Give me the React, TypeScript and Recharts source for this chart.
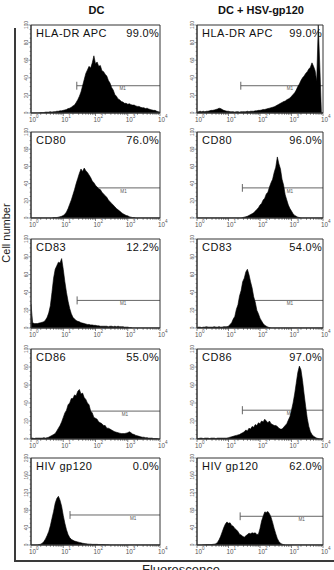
import { AreaChart, Area, XAxis, YAxis, ReferenceArea, ReferenceLine, ReferenceDot } from "recharts";

// histogram bins are 0.05 decade wide, from 10^0 to 10^4 (81 bins)
const BIN_WIDTH = 0.05;

const hlaDc = [
  0, 0, 0, 0, 0, 0, 0.5, 0.5, 0.5, 1,
  1, 1, 1.5, 1, 1.5, 1.5, 2, 2, 2.5, 2.5,
  3, 3.5, 4, 5, 5.5, 6.5, 8, 9, 12, 15,
  19, 24, 31, 38, 45, 49, 53, 51, 57, 65,
  56, 58, 53, 54, 48, 47, 44, 42, 37, 34,
  29, 26, 21, 19, 16, 15, 13, 12.5, 11, 11,
  10, 10.5, 9.5, 9, 9, 8, 7.5, 7.5, 6.5, 6,
  6, 5, 5.5, 4.5, 4, 3.5, 3, 3, 2, 1.5, 1,
];
const hlaHsv = [
  1, 1.5, 2, 1.5, 2, 1.5, 2, 2, 2.5, 3,
  3, 3.5, 4, 4.5, 5.5, 5, 4, 3, 2.5, 2,
  2, 1.5, 1.5, 1.5, 1, 1.5, 1.5, 1, 1.5, 1.5,
  1.5, 1.5, 2, 1.5, 2, 2, 2, 2.5, 2.5, 3,
  3, 3.5, 4, 4, 4.5, 5, 5.5, 6, 6.5, 7,
  8, 9, 10, 11, 12, 13, 13.5, 15, 16, 17,
  19, 21, 23, 26, 30, 33, 37, 40, 42, 45,
  47, 50, 52, 57, 53, 48, 36, 100, 52, 0, 0,
];
const cd80Dc = [
  0, 0, 0, 0, 0, 0, 0, 0, 0, 0,
  0, 0, 0, 0, 0.5, 0.5, 0.5, 1, 1.5, 2,
  3, 4.5, 7, 11, 16, 21, 27, 33, 40, 46,
  52, 57, 54, 58, 55, 53, 50, 47, 43, 41,
  38, 36, 34, 33, 30, 28, 26, 24, 21, 19,
  17, 15, 13, 11, 9.5, 8, 6.5, 5, 4, 3,
  2.5, 1.5, 1, 0.5, 0.5, 0, 0, 0, 0, 0,
  0, 0, 0, 0, 0, 0, 0, 0, 0, 0, 0,
];
const cd80Hsv = [
  0, 0, 0, 0, 0, 0, 0, 0, 0, 0,
  0, 0, 0, 0, 0, 0, 0, 0, 0, 0,
  0, 0, 0, 0, 0, 0, 0, 0, 0, 0.5,
  1, 1.5, 2, 3, 4, 5, 6, 8, 10, 12,
  15, 17, 21, 23, 28, 30, 36, 41, 45, 53,
  59, 71, 63, 57, 45, 38, 27, 21, 15, 11,
  8, 5, 3, 2, 1, 0.5, 0, 0, 0, 0,
  0, 0, 0, 0, 0, 0, 0, 0, 0, 0, 0,
];
const cd83Dc = [
  27, 6, 5, 5, 5, 5.5, 6, 6.5, 7, 9,
  12, 17, 25, 40, 56, 66, 70, 74, 73, 78,
  66, 52, 40, 30, 22, 16, 12, 10, 8.5, 7.5,
  7, 6, 5.5, 5, 4.5, 4, 4, 3.5, 3.5, 3,
  3, 2.5, 2.5, 2, 2, 2, 2, 2, 1.5, 2,
  2, 1.5, 2, 1.5, 2, 1.5, 1.5, 1.5, 1, 1,
  1, 0.5, 0.5, 0, 0, 0, 0, 0, 0, 0,
  0, 0, 0, 0, 0, 0, 0, 0, 0, 0, 0,
];
const cd83Hsv = [
  0.5, 1, 1, 0.5, 1, 1, 1.5, 1, 1, 1,
  1, 1.5, 1, 1, 1.5, 1, 1, 1.5, 1.5, 1.5,
  2, 4, 6, 10, 13, 21, 26, 36, 42, 52,
  56, 63, 66, 60, 52, 45, 35, 29, 20, 16,
  11, 8, 5, 3, 2, 1, 0.5, 0, 0, 0,
  0, 0, 0, 0, 0, 0, 0, 0, 0, 0,
  0, 0, 0, 0, 0, 0, 0, 0, 0, 0,
  0, 0, 0, 0, 0, 0, 0, 0, 0, 0, 0,
];
const cd86Dc = [
  1, 1, 0.5, 1, 1, 1, 1, 1, 1.5, 1,
  1.5, 2, 3, 4, 5, 6, 9, 12, 15, 19,
  24, 29, 32, 38, 40, 45, 45, 49, 48, 53,
  55, 50, 51, 46, 44, 40, 38, 31, 29, 24,
  23, 22, 19, 18, 17, 15, 15, 12, 12, 11,
  10, 9, 8, 7.5, 7, 6.5, 6, 6, 6, 6.5,
  7, 8, 7, 5.5, 5, 4, 3.5, 3, 2.5, 2,
  2, 1.5, 1.5, 1, 1, 1, 0.5, 0.5, 0.5, 0, 0,
];
const cd86Hsv = [
  1, 0.5, 1, 1, 0.5, 1, 1, 1, 0.5, 1,
  1, 1, 0.5, 1, 1, 1, 1, 1, 1, 1,
  1.5, 2, 2.5, 3, 3.5, 4, 4.5, 5, 6, 7,
  8, 10, 9, 12, 11, 14, 13, 16, 15, 18,
  17, 20, 19, 22, 20, 18, 20, 17, 16, 15,
  15, 14, 12, 11, 11, 13, 15, 17, 21, 25,
  32, 40, 50, 62, 74, 81, 77, 65, 50, 36,
  23, 14, 8, 5, 3, 2, 1, 0.5, 0, 0, 0,
];
const gp120Dc = [
  0, 0, 0, 0, 0, 1, 2, 4, 8, 14,
  22, 31, 44, 61, 77, 96, 107, 112, 103, 89,
  68, 50, 35, 24, 17, 13, 11, 9, 8, 7,
  6, 5, 4, 3.5, 3, 2.5, 2, 2, 1.5, 1.5,
  1.5, 1.5, 1, 1, 1, 1, 0.5, 0.5, 0.5, 0,
  0, 0, 0, 0, 0, 0, 0, 0, 0, 0,
  0, 0, 0, 0, 0, 0, 0, 0, 0, 0,
  0, 0, 0, 0, 0, 0, 0, 0, 0, 0, 0,
];
const gp120Hsv = [
  0, 0, 0, 0, 0.5, 0.5, 1, 1, 1, 1,
  1.5, 2, 3, 6, 12, 20, 30, 40, 48, 53,
  50, 51, 45, 43, 38, 35, 31, 25, 23, 20,
  18, 21, 24, 27, 26, 28, 27, 28, 24, 25,
  38, 55, 66, 76, 75, 77, 72, 64, 52, 38,
  26, 15, 8, 4, 2, 1, 0, 0, 0, 0,
  0, 0, 0, 0, 0, 0, 0, 0, 0, 0,
  0, 0, 0, 0, 0, 0, 0, 0, 0, 0, 0,
];

const markers = ["HLA-DR APC", "CD80", "CD83", "CD86", "HIV gp120"];
const countMax = [100, 100, 100, 100, 200];

const dcCounts = [hlaDc, cd80Dc, cd83Dc, cd86Dc, gp120Dc];
const dcPercent = ["99.0%", "76.0%", "12.2%", "55.0%", "0.0%"];
const dcGateFrom = [1.42, 1.45, 1.43, 1.4, 1.21];
const dcGateLevel = [31, 35, 31, 31, 69];
const dcGateTag = [2.84, 2.87, 2.86, 2.91, 3.17];

const hsvCounts = [hlaHsv, cd80Hsv, cd83Hsv, cd86Hsv, gp120Hsv];
const hsvPercent = ["99.0%", "96.0%", "54.0%", "97.0%", "62.0%"];
const hsvGateFrom = [1.39, 1.44, 1.5, 1.44, 1.37];
const hsvGateLevel = [31, 35, 31, 32, 66];
const hsvGateTag = [2.95, 2.95, 2.95, 2.95, 3.32];

// page layout
const ROW_TOP = [25, 132, 239, 349, 458];
const ROW_BOTTOM = [113, 218, 328, 439, 545];
const COL_LEFT = [31, 197];
const COL_WIDTH = [129, 126];
const AXIS_W = 16;
const AXIS_H = 14;
const PAD_R = 11;
const PAD_T = 6;

const FONT = '"Liberation Sans", Arial, Helvetica, sans-serif';
const INK = "#333";
const TICK_INK = "#555";

// log-scale ticks: decades plus 2..9 within each decade
const logTicks = [0, 1, 2, 3]
  .flatMap((d) => [d, ...[2, 3, 4, 5, 6, 7, 8, 9].map((k) => d + Math.log10(k))])
  .concat(4);

const renderLogTick = (p: any) => {
  const { x, y, payload } = p;
  const v = payload.value;
  const major = Math.abs(v - Math.round(v)) < 1e-6;
  return (
    <g>
      <line x1={x} x2={x} y1={y} y2={y + (major ? 3 : 1.8)} stroke={INK} strokeWidth={0.6} />
      {major && (
        <text x={x - 2} y={y + 9} fontSize={6.3} fill={TICK_INK} fontFamily={FONT}>
          10
          <tspan dy={-4} fontSize={4.6}>
            {Math.round(v)}
          </tspan>
        </text>
      )}
    </g>
  );
};

const makeCountTick = (yMax: number) => (p: any) => {
  const { x, y, payload } = p;
  const major = payload.value % (yMax / 5) === 0;
  return (
    <g>
      <line x1={x - (major ? 2.6 : 1.4)} x2={x} y1={y} y2={y} stroke={INK} strokeWidth={0.5} />
      {major && (
        <text
          transform={`translate(${x - 3.4},${y}) rotate(-90)`}
          textAnchor="middle"
          fontSize={4.8}
          fill={TICK_INK}
          fontFamily={FONT}
        >
          {payload.value}
        </text>
      )}
    </g>
  );
};

// small "M1" tag sitting just under the gate bar
const renderGateTag = (p: any) => (
  <text x={p.cx} y={p.cy + 4.6} textAnchor="middle" fontSize={4.6} fill="#555" fontFamily={FONT}>
    M1
  </text>
);

type PanelProps = {
  counts: number[];
  yMax: number;
  marker: string;
  percent: string;
  gateFrom: number;
  gateLevel: number;
  gateTag: number;
  left: number;
  top: number;
  width: number;
  height: number;
};

function Panel({ counts, yMax, marker, percent, gateFrom, gateLevel, gateTag, left, top, width, height }: PanelProps) {
  const data = counts.map((c, i) => ({ x: i * BIN_WIDTH, c }));
  const step = yMax / 20;
  const yTicks = Array.from({ length: 21 }, (_, i) => i * step);
  const tickHalf = yMax * 0.045;
  const chartW = AXIS_W + width + PAD_R;
  const chartH = PAD_T + height + AXIS_H;
  const textStyle = {
    position: "absolute" as const,
    top: PAD_T + 2.6,
    fontFamily: FONT,
    fontSize: 11,
    letterSpacing: 0.5,
    lineHeight: 1,
    color: "#111",
    whiteSpace: "nowrap" as const,
  };

  return (
    <div style={{ position: "absolute", left: left - AXIS_W, top: top - PAD_T, width: chartW, height: chartH }}>
      <AreaChart width={chartW} height={chartH} data={data} margin={{ top: PAD_T, right: PAD_R, bottom: 0, left: 0 }}>
        <XAxis
          type="number"
          dataKey="x"
          domain={[0, 4]}
          ticks={logTicks}
          interval={0}
          tick={renderLogTick}
          tickLine={false}
          tickSize={0}
          tickMargin={0}
          height={AXIS_H}
          axisLine={{ stroke: INK, strokeWidth: 1 }}
          allowDataOverflow
        />
        <YAxis
          type="number"
          domain={[0, yMax]}
          ticks={yTicks}
          interval={0}
          tick={makeCountTick(yMax)}
          tickLine={false}
          tickSize={0}
          tickMargin={0}
          width={AXIS_W}
          axisLine={{ stroke: INK, strokeWidth: 1 }}
          allowDataOverflow
        />
        <ReferenceLine
          segment={[
            { x: gateFrom, y: gateLevel },
            { x: 4, y: gateLevel },
          ]}
          stroke="#555"
          strokeWidth={0.9}
          zIndex={50}
        />
        <ReferenceLine
          segment={[
            { x: gateFrom, y: gateLevel - tickHalf },
            { x: gateFrom, y: gateLevel + tickHalf },
          ]}
          stroke="#555"
          strokeWidth={0.9}
          zIndex={50}
        />
        <ReferenceDot x={gateTag} y={gateLevel} r={1} shape={renderGateTag} zIndex={50} />
        <Area
          type="linear"
          dataKey="c"
          stroke="#000"
          strokeWidth={0.6}
          fill="#000"
          fillOpacity={1}
          dot={false}
          activeDot={false}
          isAnimationActive={false}
        />
        <ReferenceArea x1={0} x2={4} y1={0} y2={yMax} fill="none" stroke={INK} strokeWidth={1} zIndex={600} />
      </AreaChart>
      <div style={{ ...textStyle, left: AXIS_W + 5 }}>{marker}</div>
      <div style={{ ...textStyle, right: PAD_R + 1, letterSpacing: 0.3 }}>{percent}</div>
    </div>
  );
}

export default function App() {
  const titleStyle = {
    position: "absolute" as const,
    top: 5.2,
    width: 160,
    textAlign: "center" as const,
    fontFamily: FONT,
    fontWeight: 700,
    fontSize: 11,
    lineHeight: 1,
    color: "#111",
  };

  const columns = [
    { counts: dcCounts, percent: dcPercent, from: dcGateFrom, level: dcGateLevel, tag: dcGateTag },
    { counts: hsvCounts, percent: hsvPercent, from: hsvGateFrom, level: hsvGateLevel, tag: hsvGateTag },
  ];

  return (
    <div style={{ position: "absolute", left: 0, top: 0, width: 334, height: 570, overflow: "hidden", background: "#fff" }}>
      <div style={{ ...titleStyle, left: 96.5 - 80 }}>DC</div>
      <div style={{ ...titleStyle, left: 261 - 80 }}>DC + HSV-gp120</div>

      {/* frame on the left and bottom */}
      <div style={{ position: "absolute", left: 14, top: 28, width: 2, height: 534, background: "#3a3a3a" }} />
      <div style={{ position: "absolute", left: 14, top: 560, width: 320, height: 1.6, background: "#3a3a3a" }} />

      <div
        style={{
          position: "absolute",
          left: 5.5 - 40,
          top: 233 - 6,
          width: 80,
          height: 12,
          textAlign: "center",
          transform: "rotate(-90deg)",
          fontFamily: FONT,
          fontSize: 11,
          lineHeight: "12px",
          color: "#222",
          whiteSpace: "nowrap",
        }}
      >
        Cell number
      </div>
      <div
        style={{
          position: "absolute",
          left: 181 - 60,
          top: 563.3,
          width: 120,
          textAlign: "center",
          fontFamily: FONT,
          fontSize: 13,
          lineHeight: 1,
          color: "#222",
        }}
      >
        Fluorescence
      </div>

      {columns.map((col, c) =>
        markers.map((m, r) => (
          <Panel
            key={`${c}-${r}`}
            counts={col.counts[r]}
            yMax={countMax[r]}
            marker={m}
            percent={col.percent[r]}
            gateFrom={col.from[r]}
            gateLevel={col.level[r]}
            gateTag={col.tag[r]}
            left={COL_LEFT[c]}
            top={ROW_TOP[r]}
            width={COL_WIDTH[c]}
            height={ROW_BOTTOM[r] - ROW_TOP[r]}
          />
        ))
      )}
    </div>
  );
}
